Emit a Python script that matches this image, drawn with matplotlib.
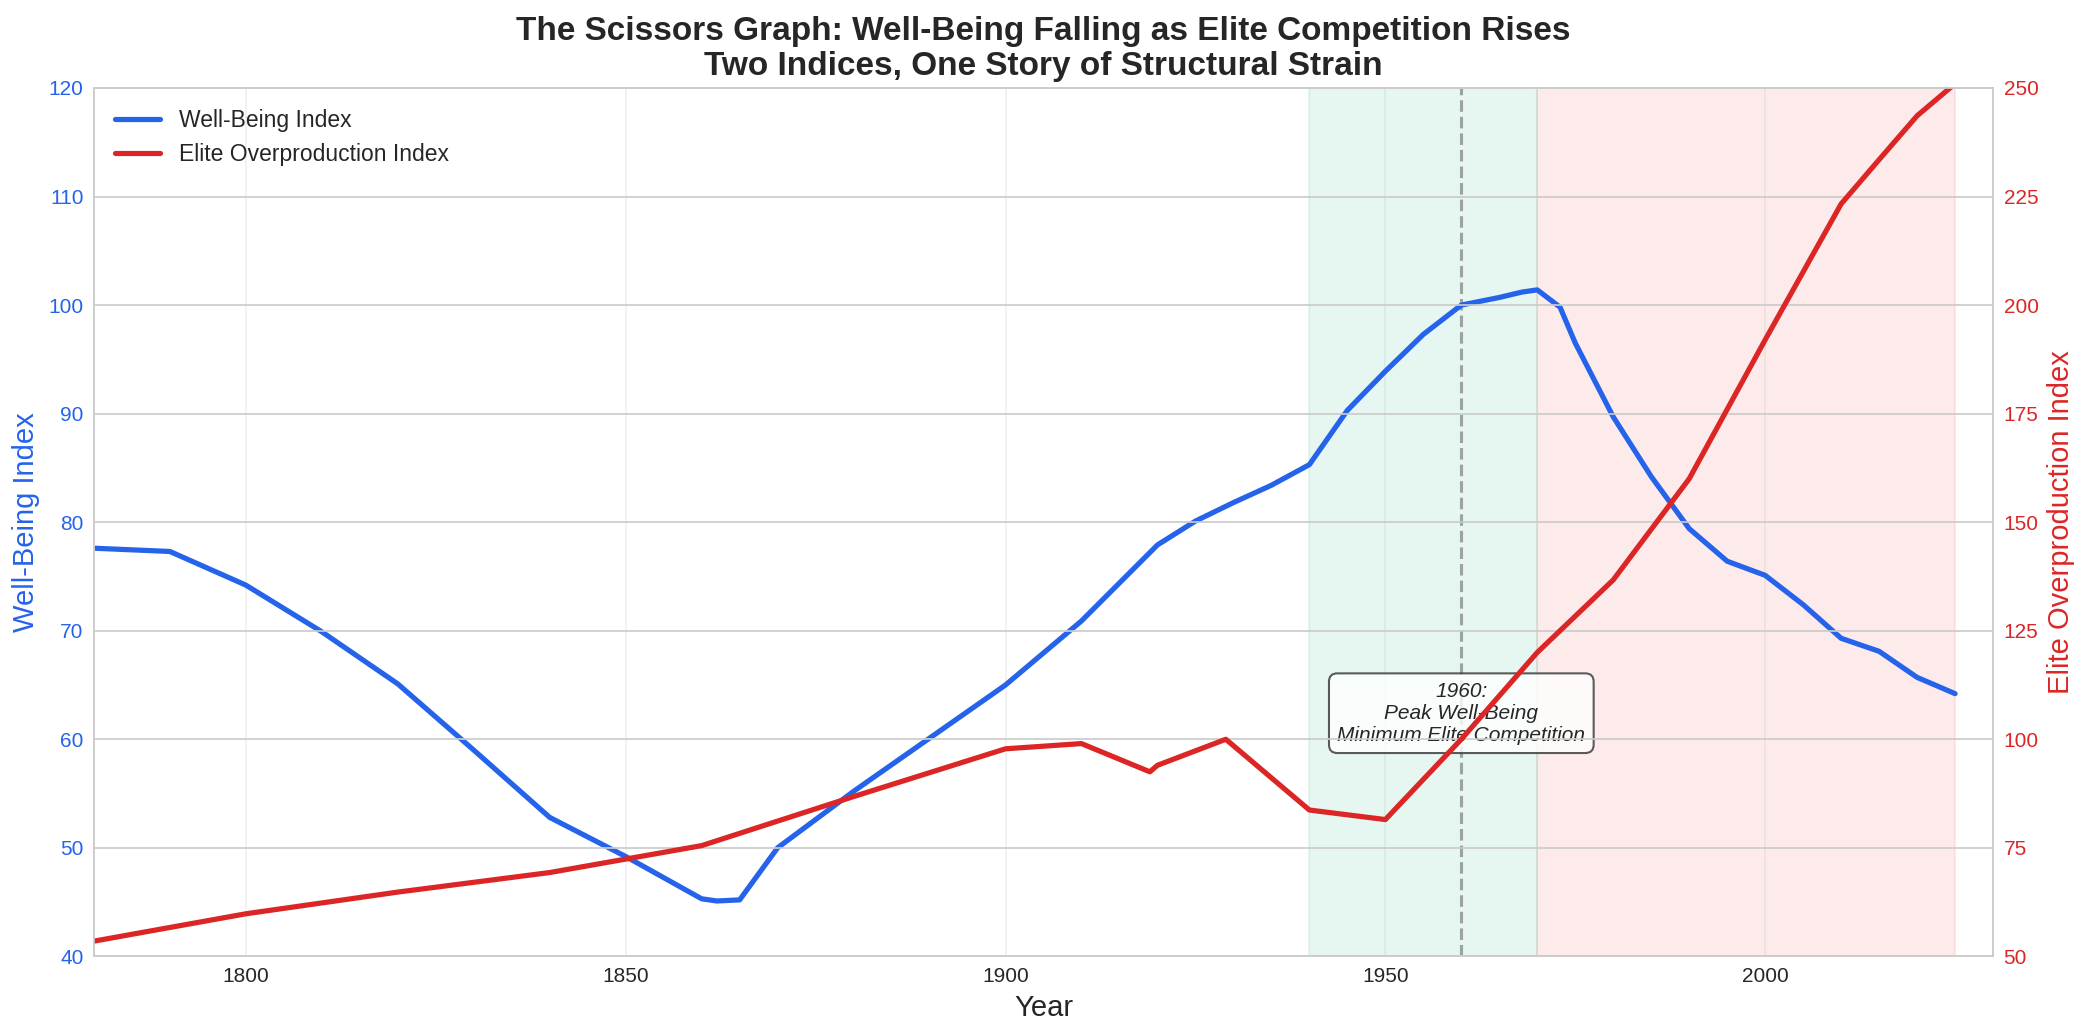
import matplotlib.pyplot as plt
import seaborn as sns

sns.set_style("whitegrid")
plt.rcParams['font.family'] = ['Liberation Sans', 'DejaVu Sans']

# Well-being index (left axis)
wb_years = [1780, 1790, 1800, 1810, 1820, 1830, 1840, 1850, 1860, 1862, 1865, 1870,
            1880, 1890, 1900, 1910, 1920, 1925, 1930, 1935, 1940, 1945, 1950, 1955,
            1960, 1965, 1968, 1970, 1973, 1975, 1980, 1985, 1990, 1995, 2000, 2005,
            2010, 2015, 2020, 2025]
wb_vals = [77.6, 77.3, 74.2, 69.9, 65.1, 59.0, 52.8, 49.2, 45.3, 45.1, 45.2, 50.0,
           55.2, 60.1, 65.0, 70.9, 77.9, 80.1, 81.8, 83.4, 85.3, 90.3, 93.9, 97.3,
           100.0, 100.7, 101.2, 101.4, 99.8, 96.5, 89.7, 84.2, 79.4, 76.4, 75.1, 72.4,
           69.3, 68.1, 65.7, 64.2]

# Elite overproduction index (right axis)
eo_years = [1780, 1800, 1820, 1840, 1860, 1880, 1900, 1910, 1919, 1920, 1929,
            1940, 1950, 1960, 1970, 1980, 1990, 2000, 2010, 2015, 2020, 2025]
eo_vals = [53.5, 59.8, 64.8, 69.3, 75.5, 86.8, 97.8, 99.0, 92.5, 94.0, 100.0,
           83.7, 81.5, 100.0, 120.0, 136.7, 160.0, 192.0, 223.3, 233.5, 243.6, 251.0]

blue = '#2563eb'
red = '#dc2626'

fig, ax1 = plt.subplots(figsize=(2087/150, 1035/150), dpi=150)
fig.subplots_adjust(left=0.045, right=0.955, top=0.915, bottom=0.076)

ax1.axvspan(1940, 1970, color='#10b981', alpha=0.1)
ax1.axvspan(1970, 2025, color='#ef4444', alpha=0.1)
ax1.axvline(1960, color='gray', linestyle='--', linewidth=1.5, alpha=0.7)

l1, = ax1.plot(wb_years, wb_vals, color=blue, linewidth=2.5, label='Well-Being Index')
ax1.set_xlim(1780, 2030)
ax1.set_ylim(40, 120)
ax1.set_xlabel('Year', fontsize=14)
ax1.set_ylabel('Well-Being Index', color=blue, fontsize=14)
ax1.tick_params(axis='y', labelcolor=blue)
ax1.grid(True, alpha=0.3)

ax1.text(1960, 62.4, '1960:\nPeak Well-Being\nMinimum Elite Competition',
         ha='center', va='center', fontsize=10, style='italic',
         bbox=dict(boxstyle='round,pad=0.4', facecolor='white', edgecolor='#333333', alpha=0.8))

ax2 = ax1.twinx()
l2, = ax2.plot(eo_years, eo_vals, color=red, linewidth=2.5, label='Elite Overproduction Index')
ax2.set_ylim(50, 250)
ax2.set_yticks([50, 75, 100, 125, 150, 175, 200, 225, 250])
ax2.set_ylabel('Elite Overproduction Index', color=red, fontsize=14)
ax2.tick_params(axis='y', labelcolor=red)

# no visible tick marks, labels sit a little off the spines
ax1.tick_params(length=0, pad=5)
ax2.tick_params(length=0, pad=5)

ax1.legend([l1, l2], [l1.get_label(), l2.get_label()], loc='upper left', fontsize=11, frameon=False)

plt.title('The Scissors Graph: Well-Being Falling as Elite Competition Rises\n'
          'Two Indices, One Story of Structural Strain', fontsize=16, fontweight='bold')

plt.savefig('out.png', dpi=150)
